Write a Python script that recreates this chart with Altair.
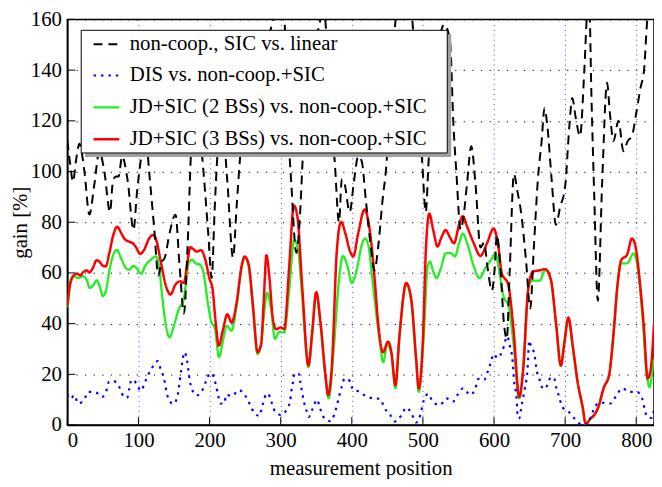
import altair as alt
import pandas as pd

NAMES = ["non-coop., SIC vs. linear", "DIS vs. non-coop.+SIC",
         "JD+SIC (2 BSs) vs. non-coop.+SIC", "JD+SIC (3 BSs) vs. non-coop.+SIC"]
COLORS = ["#000000", "#0000ff", "#22ee22", "#ff0000"]
DASHES = [[9, 6], [2.5, 5], [1, 0], [1, 0]]
WIDTHS = [2.0, 2.5, 2.1, 2.1]

X_TICKS = [0, 100, 200, 300, 400, 500, 600, 700, 800]
Y_TICKS = [0, 20, 40, 60, 80, 100, 120, 140, 160]

black_x = [0, 4, 8, 12, 17, 24, 31, 38, 45, 52, 60, 64, 68, 72, 77, 85, 93, 98, 104, 110,
           115, 122, 128, 132, 137, 144, 152, 158, 164, 169, 174, 180, 186, 192, 198, 203,
           207, 211, 218, 225, 233, 238, 243, 252, 262, 272, 282, 291, 298, 305, 310, 315,
           322, 327, 331, 340, 350, 357, 360, 363, 370, 376, 382, 386, 390, 397, 403, 409,
           414, 420, 426, 432, 437, 443, 449, 455, 462, 470, 478, 485, 492, 499, 504, 508,
           514, 522, 530, 538, 543, 547, 553, 557, 562, 568, 574, 581, 586, 591, 597, 601,
           604, 609, 614, 618, 622, 628, 633, 638, 645, 651, 656, 662, 667, 671, 675, 681,
           687, 693, 700, 706, 710, 715, 721, 727, 731, 734, 737, 741, 746, 752, 759, 763,
           768, 775, 782, 788, 794, 800, 806, 811, 815, 820, 825]
black_y = [112, 103, 96, 104, 111, 100, 83, 95, 108, 100, 84, 96, 98, 98, 106, 96, 77, 92, 106, 115,
           100, 78, 59, 64, 66, 76, 83, 62, 44, 70, 108, 125, 116, 98, 76, 58,
           84, 106, 118, 96, 66, 86, 106, 130, 138, 145, 152, 162, 170, 161, 120, 95,
           68, 82, 105, 130, 152, 162, 168, 159, 125, 104, 80, 97, 95, 84, 96, 106,
           104, 88, 72, 61, 70, 88, 104, 135, 161, 175, 172, 160, 130, 104, 84, 104,
           130, 150, 158, 152, 118, 100, 77, 82, 95, 110, 95, 70, 72, 62, 53, 62,
           75, 62, 40, 34, 60, 99, 92, 84, 65, 46, 70, 98, 112, 125, 118, 97,
           79, 86, 94, 118, 129, 121, 114, 140, 162, 165, 130, 90, 49, 95, 135, 123,
           112, 120, 108, 112, 114, 123, 133, 140, 158, 175, 185]

blue_x = [0, 2.8, 4.6, 9.7, 15.3, 23.7, 29.5, 40, 49, 55, 58.4, 64.5, 73, 78, 84, 87.2, 90, 97,
          103.4, 108.7, 114, 119.6, 127.3, 131, 136, 140.8, 148.8, 154.6, 157.5, 160, 165,
          168.5, 172, 175, 182, 190, 195, 201, 206, 209, 212, 215, 221, 223, 232, 241, 250.5,
          256.6, 262.4, 270, 274, 277.2, 282, 287, 292, 300.4, 308.8, 313.4, 315, 317.3, 319.7,
          325, 327.8, 330, 332.4, 335.9, 339.4, 345.2, 351, 355.2, 359.8, 370, 375.8, 379.2,
          382.3, 385.8, 390, 397.8, 401.5, 410, 421, 431, 440, 445.5, 453.4, 460.4, 469.7,
          476.6, 484.5, 490.5, 496, 500.9, 507.6, 513.7, 524, 533, 542.2, 548.9, 556.8, 566.5,
          574, 578, 586.2, 591.3, 595.5, 599.4, 605.2, 612.2, 618.7, 621.7, 625, 626.4, 627.3,
          628.2, 630.5, 631.9, 633.5, 635.5, 638.9, 641.2, 643.5, 645.8, 647.2, 649.5, 652.8,
          656.4, 660.5, 664.4, 669.2, 675, 680.1, 684.7, 687.6, 691.3, 695, 700.5, 704.6,
          712.5, 723, 731, 736, 740, 746.5, 756, 764, 772.3, 780.5, 790.2, 800.5, 808.2,
          811.5, 815, 821.5, 825]
blue_y = [12, 10.5, 10.3, 11.8, 8.5, 10, 13.1, 12.9, 11.1, 13.7, 17, 17.4, 15, 11.8, 10.7, 14.4, 17.9, 16.5,
          13.5, 16.6, 20, 22.8, 25.2, 22.2, 18.3, 11.5, 8.3, 11, 16, 21.6, 28.7,
          25.1, 17.9, 14.2, 11.7, 13.8, 17.2, 20.5, 19, 15.5, 11.9, 8.5, 8.6, 11.9, 11.5, 13.8, 11.4,
          8.2, 5, 3.6, 7.3, 10.7, 12.5, 9.1, 5.4, 4, 6.3, 9.7, 13.3, 16.9, 20.4,
          20.4, 16.8, 13.2, 9.5, 6.1, 3.2, 6.6, 10, 6.8, 3.3, 1.5, 4.5, 7.9,
          11.5, 15.1, 18.4, 17.2, 14, 13.2, 11.2, 10.5, 10.3, 6.9, 4.3, 1.4, 3.8,
          6.9, 4.3, 1, 3.6, 9.4, 12.3, 9.2, 7.9, 10.5, 9.2, 12, 14.5, 11.9,
          14.6, 18.2, 17.8, 21.2, 24.6, 28, 26.4, 29.6, 35, 31.9, 28, 24.5, 20.9,
          17.4, 13.7, 9.8, 3, 2.7, 7.9, 11.1, 14.6, 18.3, 22.2, 33.3, 30.3,
          28.5, 20.9, 17.6, 14.2, 15.7, 18.9, 18.3, 14.8, 11.4, 7.9, 5.9, 5.3,
          2.8, 0.3, 0.3, 3, 6, 8.5, 8.8, 8.5, 11.8, 14.5, 13.1, 13.1, 10.5,
          6.8, 3.4, 2.8, 6]

green_x = [0, 4, 9, 15, 22, 27, 31.5, 37, 41, 45.4, 50, 54.7, 59.3, 64, 69.5, 75.6, 82.5, 87,
           92.7, 97.4, 103.4, 110.3, 117.3, 124.3, 128.9, 133.5, 138, 143.7, 149.7, 156.7,
           163.6, 170.6, 175.2, 180, 186.8, 191.5, 197.5, 202, 207.7, 213.2, 219.3, 224, 231,
           238, 245, 249.4, 255, 261, 267.5, 272.6, 276, 281, 286.5, 292, 298, 305, 312, 319,
           324.5, 330.5, 339, 344.5, 350, 356, 363, 367.6, 374.6, 381.5, 387.6, 394, 400, 407,
           414, 418.7, 423.3, 428, 432.6, 439.5, 444.2, 449.7, 455.7, 461.3, 467, 476.6, 483.6,
           490.5, 494.2, 500.7, 506.7, 510, 513.7, 519.3, 525.3, 532.2, 539.2, 545.2, 550.8,
           556.4, 562.4, 571.7, 579.5, 587.9, 597.2, 601.8, 606.4, 613.4, 620.3, 627.3, 635.6,
           641.2, 649, 653.7, 664.4, 672.3, 680, 687.6, 694, 699, 704.6, 710.7, 717.6, 724.6,
           729, 736, 741, 746, 754.7, 761.7, 768.6, 773, 778.8, 787.2, 796.4, 801, 808, 815,
           818.7, 824.2, 825]
green_y = [46.3, 55, 58.7, 58, 58.7, 57.4, 54.1, 55.4, 57.1, 54.8, 50.9, 53.5, 61.3, 66.7, 69.1, 65.8, 61.9, 61.3,
           62.8, 61.9, 59.7, 63.2, 65.2, 66.5, 62.6, 50.5, 40.4, 34.6, 39.1, 45.7,
           49.6, 63.9, 65.2, 63.9, 63.2, 60, 48.2, 41.1, 37.8, 26.8, 33.9, 39.1, 37.2,
           47, 62.2, 66, 62.8, 46.5, 28, 32.6, 42, 52.2, 45.7, 34, 36.8, 36.5, 53.5, 73,
           69.1, 49.6, 22.9, 36.8, 52, 40, 18.5, 10.5, 30, 56, 66.7, 62.6, 56, 61.3,
           71, 73.6, 71, 60, 48.3, 32.6, 24.8, 31.6, 28, 14.5, 34.5, 55.5, 49,
           25.5, 13.1, 32.6, 62.6, 64.5, 61.3, 58, 61.9, 67.8, 67.8, 66.5, 71.7,
           75.5, 71.6, 62.5, 58, 61.9, 65.8, 67.7, 62.5, 50.8, 46.9, 32.6, 10.5,
           22.2, 54.7, 57, 57, 61.2, 57, 39, 23.3, 32.3, 42, 31, 16.8, 7,
           0.3, 2.5, 3.8, 6.4, 14.8, 19.4, 37.5, 53, 63.8, 63.8, 67.7, 63.8, 45.6, 19.6,
           15, 24.8, 26]

red_x = [0, 4, 9, 14, 18, 22, 27, 31, 36, 41, 45, 50, 54, 59, 64, 70, 76, 80, 87, 92, 96,
         102.5, 108, 115, 121, 125, 131, 138, 145, 152, 159, 164, 168, 173, 177.5, 182, 188,
         194, 200, 204, 208.6, 213, 219, 225, 231, 238, 245, 249.4, 255, 261, 267.5, 272.6,
         276, 280, 284, 288.8, 293.5, 300, 305, 312, 318.5, 323.6, 330.5, 339, 344.5, 350,
         356, 363, 366.7, 372.3, 379, 385, 391, 397, 402, 409, 418, 423, 428, 432.6, 437,
         444, 451, 455.7, 461.3, 467, 476.6, 483.6, 490.5, 494.2, 499.8, 504.4, 509, 514.6,
         520.6, 526, 532, 538, 543.8, 550.8, 556, 562.4, 571.7, 580.9, 590, 599.5, 605.5,
         611, 620, 627, 635.6, 641, 648, 655, 664, 672, 680, 687.6, 694, 699, 704.6, 710.7,
         717.6, 724.6, 729, 736, 741, 746, 754.7, 761.7, 768.6, 773, 779, 787, 794, 799,
         805.7, 811, 816, 820.5, 825]
red_y = [47, 56, 59, 59.7, 59, 60.2, 61, 60.2, 62, 65, 64.5, 62.8, 62.6, 67.8, 74.3, 78.2, 75.6, 73.6, 72.3, 71.7, 70.4,
         67.5, 69.1, 73.6, 75, 73, 65, 55.5, 51.5, 55.4, 56.7, 56, 62.6, 70.1, 69.3, 68.4, 69,
         65.2, 57.6, 54, 40.4, 31.3, 37.8, 43.7, 40.4, 48.2, 62.6, 66.5, 63.2, 47, 28.7, 32,
         48, 67, 58.7, 42.4, 37.8, 38.5, 37.8, 62.6, 86.6, 82.1, 53.5, 23.5, 37.2, 52.4,
         40.4, 19.6, 11.8, 24.8, 69, 80.1, 75.6, 69, 66.5, 75.6, 85, 80.8, 70.4, 56, 40.4,
         28.7, 32.9, 28.7, 15.7, 35.2, 56, 49.6, 26.1, 14.4, 32.6, 70.4, 83.4, 76.9,
         70.4, 74, 76.9, 74, 71.7, 79, 82.4, 78.1, 71.6, 66.7, 71.6, 77.5, 71.6,
         59.9, 55.4, 39.1, 11.1, 22.2, 53.4, 60.6, 61, 61.5, 57.3, 39.1, 23.5, 32.6, 42.4, 31.3,
         17, 7.2, 0.5, 2.7, 4, 6.6, 15, 19.6, 37.8, 53.4, 65.1, 67.1, 73.6, 70.4,
         54.7, 37.8, 18.3, 22.2, 40]

frames = []
for name, xs, ys in [(NAMES[0], black_x, black_y), (NAMES[1], blue_x, blue_y),
                     (NAMES[2], green_x, green_y), (NAMES[3], red_x, red_y)]:
    frames.append(pd.DataFrame({"x": xs, "y": ys, "s": name}))
df = pd.concat(frames, ignore_index=True)

FONT = "Liberation Serif, Times New Roman, Times, DejaVu Serif, serif"

x_enc = alt.X("x:Q", scale=alt.Scale(domain=[0, 825], nice=False, zero=False),
              axis=alt.Axis(title="measurement position", values=X_TICKS, grid=True,
                            gridColor="#2a2aff", gridDash=[1, 4], gridWidth=1, gridOpacity=0.9,
                            labelPadding=5, titlePadding=7, format="d",
                            labelFont=FONT, titleFont=FONT))
y_enc = alt.Y("y:Q", scale=alt.Scale(domain=[0, 160], nice=False),
              axis=alt.Axis(title="gain [%]", values=Y_TICKS, grid=True,
                            gridColor="#000000", gridDash=[1.2, 7.5], gridWidth=1,
                            labelPadding=6, titlePadding=0, format="d",
                            labelFont=FONT, titleFont=FONT))

legend = alt.Legend(orient="none", legendX=25, legendY=11, labelFont=FONT)
color_enc = alt.Color("s:N", scale=alt.Scale(domain=NAMES, range=COLORS), title=None, legend=legend)
dash_enc = alt.StrokeDash("s:N", scale=alt.Scale(domain=NAMES, range=DASHES), title=None, legend=legend)
width_enc = alt.StrokeWidth("s:N", scale=alt.Scale(domain=NAMES, range=WIDTHS), title=None, legend=legend)

base = alt.Chart(df)
layers = []
for name in [NAMES[2], NAMES[3], NAMES[1], NAMES[0]]:
    layers.append(
        base.transform_filter(alt.datum.s == name)
        .mark_line(clip=True, interpolate="monotone")
        .encode(x=x_enc, y=y_enc, color=color_enc, strokeDash=dash_enc, strokeWidth=width_enc)
    )

xt = pd.DataFrame({"x": X_TICKS})
yt = pd.DataFrame({"y": Y_TICKS})
xticks = alt.Chart(xt).mark_rule(color="black", strokeWidth=1).encode(
    x=x_enc, y=alt.value(410), y2=alt.value(402))
yticks = alt.Chart(yt).mark_rule(color="black", strokeWidth=1).encode(
    y=y_enc, x=alt.value(0), x2=alt.value(8))

box = pd.DataFrame({"a": [0]})
shadow = alt.Chart(box).mark_rect(color="#a0a0a0").encode(
    x=alt.value(18), x2=alt.value(388), y=alt.value(15), y2=alt.value(139))
frame = alt.Chart(box).mark_rect(fill="white", stroke="black", strokeWidth=1).encode(
    x=alt.value(14), x2=alt.value(384), y=alt.value(11), y2=alt.value(135))

chart = alt.layer(*layers, xticks, yticks, shadow, frame).properties(
    width=593, height=410,
    autosize=alt.AutoSizeParams(type="none"),
    padding={"left": 60, "top": 9, "right": 0, "bottom": 52},
).configure(
    font=FONT
).configure_view(
    stroke="black", strokeWidth=1.5
).configure_axis(
    labelFont=FONT, titleFont=FONT, labelFontSize=21, titleFontSize=21,
    titleFontWeight="normal", labelColor="black", titleColor="black",
    domainColor="black", domainWidth=1.5, ticks=False
).configure_legend(
    padding=0, labelFont=FONT, labelFontSize=21, labelColor="black", labelLimit=600,
    symbolType="stroke", symbolSize=676, rowPadding=7.2, labelOffset=9, symbolOffset=0
)

chart.save("out.html", embed_options={"renderer": "svg", "actions": False})
